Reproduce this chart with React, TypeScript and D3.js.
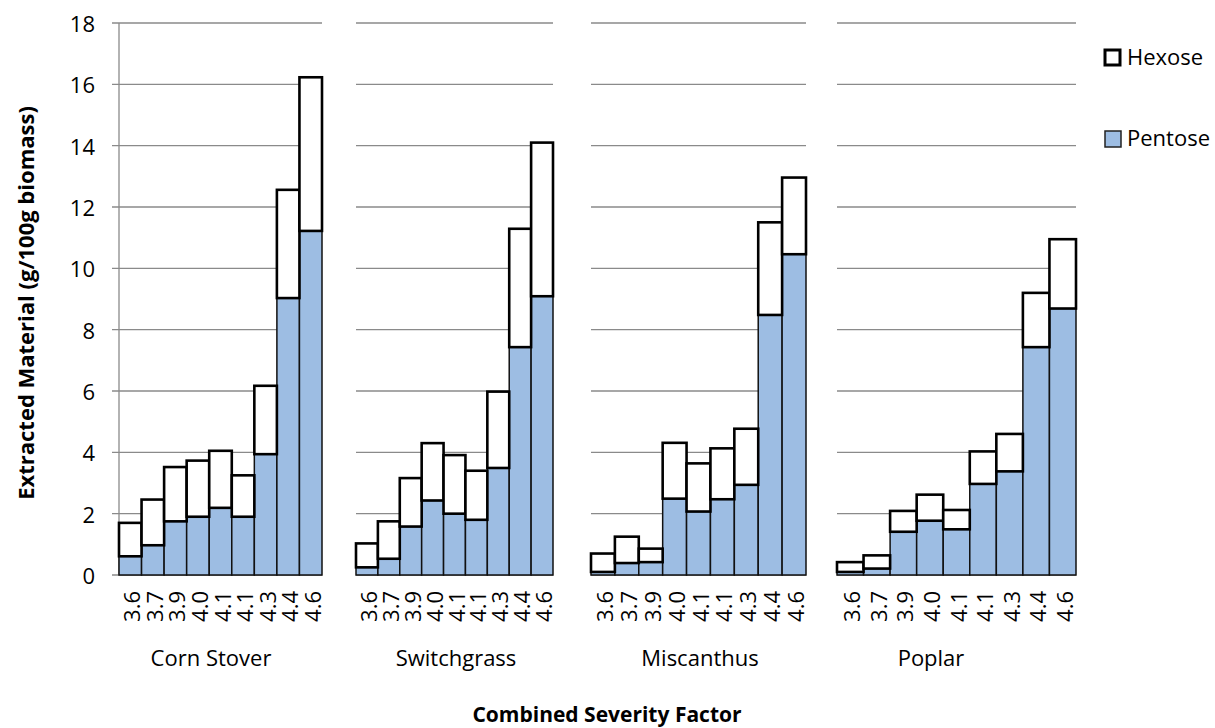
import React from "react";
import * as d3 from "d3";

const categories = ["Corn Stover", "Switchgrass", "Miscanthus", "Poplar"];
const severity = ["3.6", "3.7", "3.9", "4.0", "4.1", "4.1", "4.3", "4.4", "4.6"];
const seriesNames = ["Hexose", "Pentose"];

const pentoseCornStover = [0.61, 0.97, 1.75, 1.9, 2.19, 1.9, 3.94, 9.03, 11.22];
const hexoseCornStover = [1.09, 1.49, 1.77, 1.83, 1.86, 1.35, 2.23, 3.53, 5.01];
const pentoseSwitchgrass = [0.25, 0.53, 1.58, 2.43, 2.0, 1.8, 3.49, 7.43, 9.09];
const hexoseSwitchgrass = [0.78, 1.22, 1.58, 1.87, 1.91, 1.6, 2.49, 3.86, 5.01];
const pentoseMiscanthus = [0.1, 0.39, 0.42, 2.49, 2.07, 2.47, 2.94, 8.48, 10.46];
const hexoseMiscanthus = [0.6, 0.86, 0.44, 1.82, 1.57, 1.66, 1.83, 3.02, 2.5];
const pentosePoplar = [0.1, 0.21, 1.41, 1.77, 1.49, 2.97, 3.38, 7.43, 8.69];
const hexosePoplar = [0.32, 0.43, 0.68, 0.85, 0.63, 1.06, 1.22, 1.77, 2.26];

const pentoseByCat = [pentoseCornStover, pentoseSwitchgrass, pentoseMiscanthus, pentosePoplar];
const hexoseByCat = [hexoseCornStover, hexoseSwitchgrass, hexoseMiscanthus, hexosePoplar];

const yTitle = "Extracted Material (g/100g biomass)";
const xTitle = "Combined Severity Factor";

// layout
const W = 1215;
const H = 728;
const panelRanges: [number, number][] = [
  [119, 322],
  [356, 553],
  [591, 806],
  [837, 1076],
];
const catLabelX = [211, 456, 700, 931];
const FONT = "'Open Sans', 'Noto Sans', sans-serif";
const BLUE = "#9dbde3";
const GRID = "#8a8a8a";

export default function App() {
  const y = d3.scaleLinear().domain([0, 18]).range([575, 23]);
  const yTicks = y.ticks(9);

  return (
    <svg
      width={W}
      height={H}
      style={{ position: "absolute", left: 0, top: 0, background: "#fff" }}
      fontFamily={FONT}
    >
      {/* y axis tick labels */}
      {yTicks.map((t) => (
        <text
          key={"yl" + t}
          x={95}
          y={y(t)}
          textAnchor="end"
          dominantBaseline="central"
          fontSize={22}
          fill="#000"
        >
          {t}
        </text>
      ))}
      {/* y axis title */}
      <text
        transform={`translate(34,303) rotate(-90)`}
        textAnchor="middle"
        fontSize={22}
        fontWeight="bold"
        fill="#000"
      >
        {yTitle}
      </text>

      {panelRanges.map((r, ci) => {
        const keys = severity.map((s, i) => s + "_" + i);
        const x = d3.scaleBand<string>().domain(keys).range(r).paddingInner(0).paddingOuter(0);
        const gx0 = ci === 0 ? 112 : r[0];
        return (
          <g key={"p" + ci}>
            {yTicks.map((t) => (
              <line
                key={"g" + t}
                x1={gx0}
                x2={r[1]}
                y1={y(t)}
                y2={y(t)}
                stroke={GRID}
                strokeWidth={1.3}
              />
            ))}
            {ci === 0 && (
              <line x1={r[0]} x2={r[0]} y1={y(18)} y2={y(0)} stroke={GRID} strokeWidth={1.3} />
            )}
            {/* pentose */}
            {keys.map((k, i) => (
              <rect
                key={"pe" + i}
                x={x(k)!}
                width={x.bandwidth()}
                y={y(pentoseByCat[ci][i])}
                height={y(0) - y(pentoseByCat[ci][i])}
                fill={BLUE}
                stroke="#111"
                strokeWidth={1.5}
              />
            ))}
            {/* hexose */}
            {keys.map((k, i) => {
              const p = pentoseByCat[ci][i];
              const h = hexoseByCat[ci][i];
              return (
                <rect
                  key={"he" + i}
                  x={x(k)!}
                  width={x.bandwidth()}
                  y={y(p + h)}
                  height={y(p) - y(p + h)}
                  fill="#fff"
                  stroke="#000"
                  strokeWidth={2.6}
                />
              );
            })}
            {/* x tick labels */}
            {keys.map((k, i) => (
              <text
                key={"xt" + i}
                transform={`translate(${x(k)! + x.bandwidth() / 2 + 1},591) rotate(-90)`}
                textAnchor="end"
                dominantBaseline="central"
                fontSize={22}
                fill="#000"
              >
                {severity[i]}
              </text>
            ))}
            <text x={catLabelX[ci]} y={666} textAnchor="middle" fontSize={22} fill="#000">
              {categories[ci]}
            </text>
          </g>
        );
      })}

      {/* x axis title */}
      <text x={607} y={722} textAnchor="middle" fontSize={21} fontWeight="bold" fill="#000">
        {xTitle}
      </text>

      {/* legend */}
      <rect x={1105} y={50} width={15} height={15} fill="#fff" stroke="#000" strokeWidth={3} />
      <text x={1127} y={65} fontSize={22} fill="#000">
        {seriesNames[0]}
      </text>
      <rect x={1105} y={131} width={16} height={16} fill={BLUE} stroke="#222" strokeWidth={1.5} />
      <text x={1127} y={146} fontSize={22} fill="#000">
        {seriesNames[1]}
      </text>
    </svg>
  );
}
